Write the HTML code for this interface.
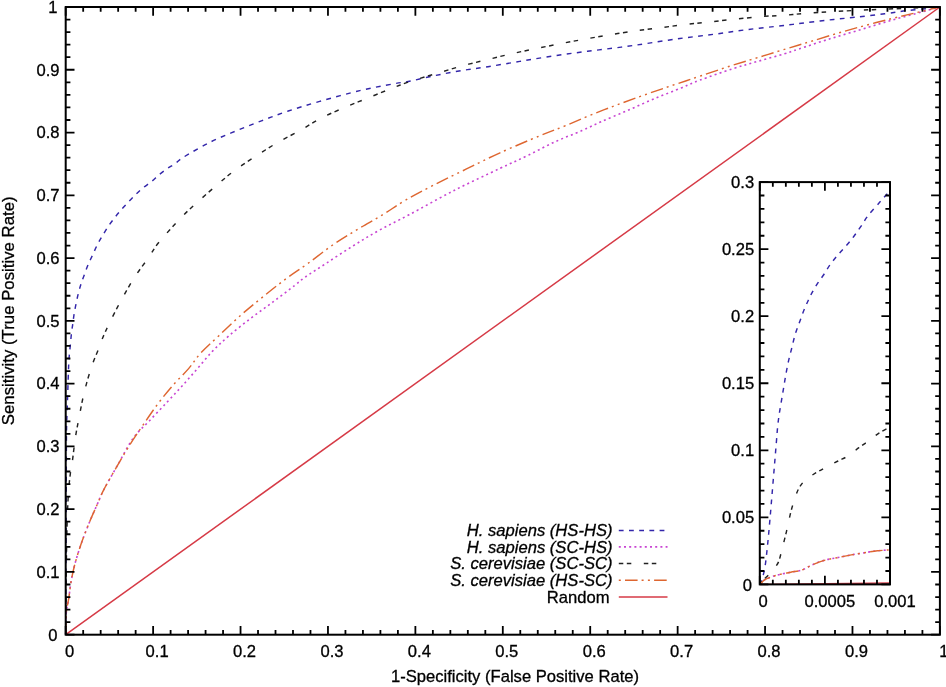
<!DOCTYPE html>
<html><head><meta charset="utf-8"><title>ROC curves</title>
<style>html,body{margin:0;padding:0;background:#fff;}svg{display:block;}text{font-family:"Liberation Sans", Arial, Helvetica, sans-serif;font-size:16.6px;fill:#000;stroke:#000;stroke-width:0.3px;}</style>
</head><body>
<svg width="946" height="687" viewBox="0 0 946 687">
<rect x="0" y="0" width="946" height="687" fill="#fff"/>
<g>
<path d="M65.7 634.7C65.75 622.25 65.9 587.45 66 560C66.1 532.55 66.22 491.33 66.3 470C66.38 448.67 66.37 441.73 66.5 432C66.63 422.27 66.88 418.43 67.1 411.6C67.32 404.77 67.55 398.48 67.8 391C68.05 383.52 68.37 372.45 68.6 366.7C68.83 360.95 68.93 359.9 69.2 356.5C69.47 353.1 69.83 350.07 70.2 346.3C70.57 342.53 70.97 337.67 71.4 333.9C71.83 330.13 72.35 326.98 72.8 323.7C73.25 320.42 73.57 317.48 74.1 314.2C74.63 310.92 75.32 307.38 76 304C76.68 300.62 77.35 297.28 78.2 293.9C79.05 290.52 80.05 286.98 81.1 283.7C82.15 280.42 83.28 277.48 84.5 274.2C85.72 270.92 87.02 267.27 88.4 264C89.78 260.73 91.28 257.87 92.8 254.6C94.32 251.33 95.9 247.53 97.5 244.4C99.1 241.27 100.62 238.8 102.4 235.8C104.18 232.8 106.15 229.42 108.2 226.4C110.25 223.38 112.52 220.48 114.7 217.7C116.88 214.92 118.98 212.37 121.3 209.7C123.62 207.03 126.18 204.25 128.6 201.7C131.02 199.15 133.38 196.72 135.8 194.4C138.22 192.08 140.43 189.98 143.1 187.8C145.77 185.62 149.13 183.48 151.8 181.3C154.47 179.12 156.48 176.85 159.1 174.7C161.72 172.55 164.83 170.22 167.5 168.4C170.17 166.58 172.43 165.67 175.1 163.8C177.77 161.93 177.73 160.77 183.5 157.2C189.27 153.63 200.97 146.77 209.7 142.4C218.43 138.03 227.17 134.63 235.9 131C244.63 127.37 253.37 123.93 262.1 120.6C270.83 117.27 278.7 114.2 288.3 111C297.9 107.8 307.78 104.8 319.7 101.4C331.62 98 347.47 93.53 359.8 90.6C372.13 87.67 385.23 85.4 393.7 83.8C402.17 82.2 403.57 82.4 410.6 81C417.63 79.6 427.45 77.13 435.9 75.4C444.35 73.67 452.62 72.05 461.3 70.6C469.98 69.15 478.25 68.23 488 66.7C497.75 65.17 508.85 63.2 519.8 61.4C530.75 59.6 542.42 57.58 553.7 55.9C564.98 54.22 576.23 52.77 587.5 51.3C598.77 49.83 611.55 48.38 621.3 47.1C631.05 45.82 636.25 45.03 646 43.6C655.75 42.17 668.52 40.05 679.8 38.5C691.08 36.95 702.42 35.78 713.7 34.3C724.98 32.82 736.23 31.02 747.5 29.6C758.77 28.18 772.3 26.85 781.3 25.8C790.3 24.75 793.77 24.25 801.5 23.3C809.23 22.35 818.83 21.1 827.7 20.1C836.57 19.1 845.18 18.35 854.7 17.3C864.22 16.25 876.08 14.92 884.8 13.8C893.52 12.68 899.87 11.48 907 10.6C914.13 9.72 922.12 9.1 927.6 8.5C933.08 7.9 937.85 7.25 939.9 7" fill="none" stroke="#3326aa" stroke-width="1.45" stroke-dasharray="4.8 5.4" stroke-linejoin="round"/>
<path d="M65.7 634.7C65.78 631.18 65.7 619.6 66.2 613.6C66.7 607.6 67.88 604.07 68.7 598.7C69.52 593.33 70.07 587.18 71.1 581.4C72.13 575.62 73.25 570.18 74.9 564C76.55 557.82 78.73 550.88 81 544.3C83.27 537.72 85.82 531.1 88.5 524.5C91.18 517.9 94.57 510.47 97.1 504.7C99.63 498.93 100.42 496.25 103.7 489.9C106.98 483.55 111.88 475.22 116.8 466.6C121.72 457.98 127.75 445.85 133.2 438.2C138.65 430.55 143.87 426.7 149.5 420.7C155.13 414.7 161.53 408.02 167 402.2C172.47 396.38 177.2 391.43 182.3 385.8C187.4 380.17 192.52 374.22 197.6 368.4C202.68 362.58 207.55 356.35 212.8 350.9C218.05 345.45 222.75 341.15 229.1 335.7C235.45 330.25 243.63 323.78 250.9 318.2C258.17 312.62 265.42 307.65 272.7 302.2C279.98 296.75 289.18 289.68 294.6 285.5C300.02 281.32 299.93 280.8 305.2 277.1C310.47 273.4 318.33 268.43 326.2 263.3C334.07 258.17 343.67 251.75 352.4 246.3C361.13 240.85 369.17 235.85 378.6 230.6C388.03 225.35 396.33 221.53 409 214.8C421.67 208.07 439.43 197.93 454.6 190.2C469.77 182.47 487.88 174.15 500 168.4C512.12 162.65 518.2 160.1 527.3 155.7C536.4 151.3 545.5 146.18 554.6 142C563.7 137.82 574.17 133.97 581.9 130.6C589.63 127.23 593.43 125.13 601 121.8C608.57 118.47 618.37 114.47 627.3 110.6C636.23 106.73 645.5 102.42 654.6 98.6C663.7 94.78 674.33 90.78 681.9 87.7C689.47 84.62 691.52 83.27 700 80.1C708.48 76.93 722.97 71.88 732.8 68.7C742.63 65.52 750.45 63.47 759 61C767.55 58.53 777.47 55.9 784.1 53.9C790.73 51.9 791.53 51.4 798.8 49C806.07 46.6 817.6 42.67 827.7 39.5C837.8 36.33 848.83 33.18 859.4 30C869.97 26.82 880.53 23.45 891.1 20.4C901.67 17.35 914.67 13.93 922.8 11.7C930.93 9.47 937.05 7.78 939.9 7" fill="none" stroke="#c844d2" stroke-width="1.6" stroke-dasharray="2 3.2" stroke-linejoin="round"/>
<path d="M65.7 634.7C65.75 628.92 65.88 612.62 66 600C66.12 587.38 66.2 572.33 66.4 559C66.6 545.67 66.85 531.17 67.2 520C67.55 508.83 67.98 499.67 68.5 492C69.02 484.33 69.68 478.88 70.3 474C70.92 469.12 71.37 468.67 72.2 462.7C73.03 456.73 74.1 446.03 75.3 438.2C76.5 430.37 77.87 423.53 79.4 415.7C80.93 407.87 82.47 399.37 84.5 391.2C86.53 383.03 89.22 373.83 91.6 366.7C93.98 359.57 97.03 353.02 98.8 348.4C100.57 343.78 100.42 343.23 102.2 339C103.98 334.77 106.35 329.43 109.5 323C112.65 316.57 116.98 307.93 121.1 300.4C125.22 292.87 129.7 284.83 134.2 277.8C138.7 270.77 143.97 264.13 148.1 258.2C152.23 252.27 153.55 248.9 159 242.2C164.45 235.5 174.97 224.15 180.8 218C186.63 211.85 188.02 210.77 194 205.3C199.98 199.83 209.72 191.17 216.7 185.2C223.68 179.23 229.22 174.45 235.9 169.5C242.58 164.55 249.82 160.02 256.8 155.5C263.78 150.98 270.52 146.62 277.8 142.4C285.08 138.18 293.22 134.28 300.5 130.2C307.78 126.12 314.15 121.68 321.5 117.9C328.85 114.12 336.95 110.78 344.6 107.5C352.25 104.22 359.78 101.3 367.4 98.2C375.02 95.1 383.1 91.72 390.3 88.9C397.5 86.08 403 83.83 410.6 81.3C418.2 78.77 427.45 76.23 435.9 73.7C444.35 71.17 452.78 68.43 461.3 66.1C469.82 63.77 478.65 61.75 487 59.7C495.35 57.65 503.4 55.62 511.4 53.8C519.4 51.98 526.83 50.48 535 48.8C543.17 47.12 552.08 45.32 560.4 43.7C568.72 42.08 576.72 40.57 584.9 39.1C593.08 37.63 601.32 36.25 609.5 34.9C617.68 33.55 626.78 32.03 634 31C641.22 29.97 644.32 29.77 652.8 28.7C661.28 27.63 675.32 25.73 684.9 24.6C694.48 23.47 701.85 22.82 710.3 21.9C718.75 20.98 726.87 20 735.6 19.1C744.33 18.2 754.52 17.15 762.7 16.5C770.88 15.85 777.65 15.72 784.7 15.2C791.75 14.68 797.3 13.98 805 13.4C812.7 12.82 821.3 12.25 830.9 11.7C840.5 11.15 854.15 10.5 862.6 10.1C871.05 9.7 873.7 9.62 881.6 9.3C889.5 8.98 900.28 8.58 910 8.2C919.72 7.82 934.92 7.2 939.9 7" fill="none" stroke="#222222" stroke-width="1.45" stroke-dasharray="4.5 3.5 4.5 12.5" stroke-linejoin="round"/>
<path d="M65.7 634.7C65.78 631.18 65.7 619.6 66.2 613.6C66.7 607.6 67.88 604.07 68.7 598.7C69.52 593.33 70.07 587.18 71.1 581.4C72.13 575.62 73.25 570.18 74.9 564C76.55 557.82 78.73 550.88 81 544.3C83.27 537.72 85.82 531.1 88.5 524.5C91.18 517.9 94.57 510.47 97.1 504.7C99.63 498.93 100.42 496.25 103.7 489.9C106.98 483.55 112.43 474.13 116.8 466.6C121.17 459.07 125.53 451.62 129.9 444.7C134.27 437.78 138.27 432 143 425.1C147.73 418.2 153.22 410.03 158.3 403.3C163.38 396.57 168.42 390.52 173.5 384.7C178.58 378.88 184.27 373.67 188.8 368.4C193.33 363.13 195.68 358.55 200.7 353.1C205.72 347.65 212.23 342 218.9 335.7C225.57 329.4 233.42 321.73 240.7 315.3C247.98 308.87 255.08 303.17 262.6 297.1C270.12 291.03 278.28 284.48 285.8 278.9C293.32 273.32 299.88 269.25 307.7 263.6C315.52 257.95 324.38 250.72 332.7 245C341.02 239.28 349.3 234.32 357.6 229.3C365.9 224.28 374.6 219.7 382.5 214.9C390.4 210.1 396.53 205.43 405 200.5C413.47 195.57 423.13 190.52 433.3 185.3C443.47 180.08 454.88 174.62 466 169.2C477.12 163.78 487.78 158.33 500 152.8C512.22 147.27 528.38 140.52 539.3 136C550.22 131.48 556.58 129.33 565.5 125.7C574.42 122.07 583.6 117.9 592.8 114.2C602 110.5 611.5 106.92 620.7 103.5C629.9 100.08 638.9 96.88 648 93.7C657.1 90.52 666.45 87.38 675.3 84.4C684.15 81.42 691.88 78.88 701.1 75.8C710.32 72.72 720.95 69 730.6 65.9C740.25 62.8 749.55 60.1 759 57.2C768.45 54.3 778.48 51.18 787.3 48.5C796.12 45.82 802.52 43.93 811.9 41.1C821.28 38.27 833.03 34.55 843.6 31.5C854.17 28.45 864.73 25.57 875.3 22.8C885.87 20.03 896.23 17.53 907 14.9C917.77 12.27 934.42 8.32 939.9 7" fill="none" stroke="#de6630" stroke-width="1.45" stroke-dasharray="12.6 4 2 4.3 2 4.2" stroke-linejoin="round"/>
<line x1="65.7" y1="634.7" x2="939.9" y2="7" stroke="#d63a46" stroke-width="1.5"/>
</g>
<path d="M65.7 634.7v-8.8M65.7 7v8.8M65.7 634.7h8.8M939.9 634.7h-8.8M83.18 634.7v-4.7M83.18 7v4.7M65.7 622.15h4.7M939.9 622.15h-4.7M100.67 634.7v-4.7M100.67 7v4.7M65.7 609.59h4.7M939.9 609.59h-4.7M118.15 634.7v-4.7M118.15 7v4.7M65.7 597.04h4.7M939.9 597.04h-4.7M135.64 634.7v-4.7M135.64 7v4.7M65.7 584.48h4.7M939.9 584.48h-4.7M153.12 634.7v-8.8M153.12 7v8.8M65.7 571.93h8.8M939.9 571.93h-8.8M170.6 634.7v-4.7M170.6 7v4.7M65.7 559.38h4.7M939.9 559.38h-4.7M188.09 634.7v-4.7M188.09 7v4.7M65.7 546.82h4.7M939.9 546.82h-4.7M205.57 634.7v-4.7M205.57 7v4.7M65.7 534.27h4.7M939.9 534.27h-4.7M223.06 634.7v-4.7M223.06 7v4.7M65.7 521.71h4.7M939.9 521.71h-4.7M240.54 634.7v-8.8M240.54 7v8.8M65.7 509.16h8.8M939.9 509.16h-8.8M258.02 634.7v-4.7M258.02 7v4.7M65.7 496.61h4.7M939.9 496.61h-4.7M275.51 634.7v-4.7M275.51 7v4.7M65.7 484.05h4.7M939.9 484.05h-4.7M292.99 634.7v-4.7M292.99 7v4.7M65.7 471.5h4.7M939.9 471.5h-4.7M310.48 634.7v-4.7M310.48 7v4.7M65.7 458.94h4.7M939.9 458.94h-4.7M327.96 634.7v-8.8M327.96 7v8.8M65.7 446.39h8.8M939.9 446.39h-8.8M345.44 634.7v-4.7M345.44 7v4.7M65.7 433.84h4.7M939.9 433.84h-4.7M362.93 634.7v-4.7M362.93 7v4.7M65.7 421.28h4.7M939.9 421.28h-4.7M380.41 634.7v-4.7M380.41 7v4.7M65.7 408.73h4.7M939.9 408.73h-4.7M397.9 634.7v-4.7M397.9 7v4.7M65.7 396.17h4.7M939.9 396.17h-4.7M415.38 634.7v-8.8M415.38 7v8.8M65.7 383.62h8.8M939.9 383.62h-8.8M432.86 634.7v-4.7M432.86 7v4.7M65.7 371.07h4.7M939.9 371.07h-4.7M450.35 634.7v-4.7M450.35 7v4.7M65.7 358.51h4.7M939.9 358.51h-4.7M467.83 634.7v-4.7M467.83 7v4.7M65.7 345.96h4.7M939.9 345.96h-4.7M485.32 634.7v-4.7M485.32 7v4.7M65.7 333.4h4.7M939.9 333.4h-4.7M502.8 634.7v-8.8M502.8 7v8.8M65.7 320.85h8.8M939.9 320.85h-8.8M520.28 634.7v-4.7M520.28 7v4.7M65.7 308.3h4.7M939.9 308.3h-4.7M537.77 634.7v-4.7M537.77 7v4.7M65.7 295.74h4.7M939.9 295.74h-4.7M555.25 634.7v-4.7M555.25 7v4.7M65.7 283.19h4.7M939.9 283.19h-4.7M572.74 634.7v-4.7M572.74 7v4.7M65.7 270.63h4.7M939.9 270.63h-4.7M590.22 634.7v-8.8M590.22 7v8.8M65.7 258.08h8.8M939.9 258.08h-8.8M607.7 634.7v-4.7M607.7 7v4.7M65.7 245.53h4.7M939.9 245.53h-4.7M625.19 634.7v-4.7M625.19 7v4.7M65.7 232.97h4.7M939.9 232.97h-4.7M642.67 634.7v-4.7M642.67 7v4.7M65.7 220.42h4.7M939.9 220.42h-4.7M660.16 634.7v-4.7M660.16 7v4.7M65.7 207.86h4.7M939.9 207.86h-4.7M677.64 634.7v-8.8M677.64 7v8.8M65.7 195.31h8.8M939.9 195.31h-8.8M695.12 634.7v-4.7M695.12 7v4.7M65.7 182.76h4.7M939.9 182.76h-4.7M712.61 634.7v-4.7M712.61 7v4.7M65.7 170.2h4.7M939.9 170.2h-4.7M730.09 634.7v-4.7M730.09 7v4.7M65.7 157.65h4.7M939.9 157.65h-4.7M747.58 634.7v-4.7M747.58 7v4.7M65.7 145.09h4.7M939.9 145.09h-4.7M765.06 634.7v-8.8M765.06 7v8.8M65.7 132.54h8.8M939.9 132.54h-8.8M782.54 634.7v-4.7M782.54 7v4.7M65.7 119.99h4.7M939.9 119.99h-4.7M800.03 634.7v-4.7M800.03 7v4.7M65.7 107.43h4.7M939.9 107.43h-4.7M817.51 634.7v-4.7M817.51 7v4.7M65.7 94.88h4.7M939.9 94.88h-4.7M835 634.7v-4.7M835 7v4.7M65.7 82.32h4.7M939.9 82.32h-4.7M852.48 634.7v-8.8M852.48 7v8.8M65.7 69.77h8.8M939.9 69.77h-8.8M869.96 634.7v-4.7M869.96 7v4.7M65.7 57.22h4.7M939.9 57.22h-4.7M887.45 634.7v-4.7M887.45 7v4.7M65.7 44.66h4.7M939.9 44.66h-4.7M904.93 634.7v-4.7M904.93 7v4.7M65.7 32.11h4.7M939.9 32.11h-4.7M922.42 634.7v-4.7M922.42 7v4.7M65.7 19.55h4.7M939.9 19.55h-4.7M939.9 634.7v-8.8M939.9 7v8.8M65.7 7h8.8M939.9 7h-8.8" stroke="#000" stroke-width="1.8" fill="none"/>
<rect x="65.7" y="7" width="874.2" height="627.7" fill="none" stroke="#000" stroke-width="2"/>
<text x="69.7" y="657.3" text-anchor="middle">0</text>
<text x="57.6" y="641.3" text-anchor="end">0</text>
<text x="157.12" y="657.3" text-anchor="middle">0.1</text>
<text x="59.6" y="577.73" text-anchor="end">0.1</text>
<text x="244.54" y="657.3" text-anchor="middle">0.2</text>
<text x="59.6" y="514.96" text-anchor="end">0.2</text>
<text x="331.96" y="657.3" text-anchor="middle">0.3</text>
<text x="59.6" y="452.19" text-anchor="end">0.3</text>
<text x="419.38" y="657.3" text-anchor="middle">0.4</text>
<text x="59.6" y="389.42" text-anchor="end">0.4</text>
<text x="506.8" y="657.3" text-anchor="middle">0.5</text>
<text x="59.6" y="326.65" text-anchor="end">0.5</text>
<text x="594.22" y="657.3" text-anchor="middle">0.6</text>
<text x="59.6" y="263.88" text-anchor="end">0.6</text>
<text x="681.64" y="657.3" text-anchor="middle">0.7</text>
<text x="59.6" y="201.11" text-anchor="end">0.7</text>
<text x="769.06" y="657.3" text-anchor="middle">0.8</text>
<text x="59.6" y="138.34" text-anchor="end">0.8</text>
<text x="856.48" y="657.3" text-anchor="middle">0.9</text>
<text x="59.6" y="75.57" text-anchor="end">0.9</text>
<text x="943.9" y="657.3" text-anchor="middle">1</text>
<text x="57.6" y="12.8" text-anchor="end">1</text>
<text x="515" y="681.8" text-anchor="middle">1-Specificity (False Positive Rate)</text>
<text transform="translate(13.7 310.8) rotate(-90)" text-anchor="middle" style="font-size:16.8px">Sensitivity (True Positive Rate)</text>
<text x="612.5" y="536" text-anchor="end" font-style="italic">H. sapiens (HS-HS)</text>
<line x1="618.8" y1="530.4" x2="667.5" y2="530.4" stroke="#3326aa" stroke-width="1.45" stroke-dasharray="4.8 5.4"/>
<text x="612.5" y="552.5" text-anchor="end" font-style="italic">H. sapiens (SC-HS)</text>
<line x1="618.8" y1="546.9" x2="667.5" y2="546.9" stroke="#c844d2" stroke-width="1.6" stroke-dasharray="2 3.2"/>
<text x="612.5" y="569.1" text-anchor="end" font-style="italic">S. cerevisiae (SC-SC)</text>
<line x1="618.8" y1="563.5" x2="667.5" y2="563.5" stroke="#222222" stroke-width="1.45" stroke-dasharray="4.5 3.5 4.5 12.5"/>
<text x="612.5" y="585.8" text-anchor="end" font-style="italic">S. cerevisiae (HS-SC)</text>
<line x1="618.8" y1="580.2" x2="667.5" y2="580.2" stroke="#de6630" stroke-width="1.45" stroke-dasharray="12.6 4 2 4.3 2 4.2" stroke-dashoffset="22.9"/>
<text x="609.5" y="602.6" text-anchor="end">Random</text>
<line x1="618.8" y1="597" x2="667.5" y2="597" stroke="#d63a46" stroke-width="1.5"/>
<rect x="759.8" y="182.1" width="130.2" height="402.3" fill="#fff"/>
<defs><clipPath id="ic"><rect x="759.8" y="182.1" width="130.2" height="402.3"/></clipPath></defs>
<g clip-path="url(#ic)">
<path d="M759.8 584.4C760.05 584.02 760.43 585.03 761.3 582.1C762.17 579.17 763.92 573.37 765 566.8C766.08 560.23 766.97 550.72 767.8 542.7C768.63 534.68 769.27 527.07 770 518.7C770.73 510.33 771.47 501.25 772.2 492.5C772.93 483.75 773.7 474.65 774.4 466.2C775.1 457.75 775.85 448.48 776.4 441.8C776.95 435.12 777.2 430.9 777.7 426.1C778.2 421.3 778.75 417.37 779.4 413C780.05 408.63 780.87 404.27 781.6 399.9C782.33 395.53 783.07 391.17 783.8 386.8C784.53 382.43 785.2 378.07 786 373.7C786.8 369.33 787.62 364.97 788.6 360.6C789.58 356.23 790.8 351.88 791.9 347.5C793 343.12 793.93 338.5 795.2 334.3C796.47 330.1 798.05 326.3 799.5 322.3C800.95 318.3 802.47 313.88 803.9 310.3C805.33 306.72 806.72 303.78 808.1 300.8C809.48 297.82 810.65 295.25 812.2 292.4C813.75 289.55 815.52 286.6 817.4 283.7C819.28 280.8 821.47 278.05 823.5 275C825.53 271.95 827.57 268.32 829.6 265.4C831.63 262.48 833.65 259.98 835.7 257.5C837.75 255.02 839.72 252.97 841.9 250.5C844.08 248.03 846.62 245.32 848.8 242.7C850.98 240.08 852.95 237.57 855 234.8C857.05 232.03 858.92 229.3 861.1 226.1C863.28 222.9 864.9 219.68 868.1 215.6C871.3 211.52 877.1 205.25 880.3 201.6C883.5 197.95 885.52 195.63 887.3 193.7C889.08 191.77 890.38 190.62 891 190" fill="none" stroke="#3326aa" stroke-width="1.45" stroke-dasharray="4.8 5.4" stroke-linejoin="round"/>
<path d="M759.8 584.4C760.6 583.65 762.53 581.2 764.6 579.9C766.67 578.6 769.65 577.52 772.2 576.6C774.75 575.68 776.8 575.13 779.9 574.4C783 573.67 787.17 572.92 790.8 572.2C794.43 571.48 798.12 571.33 801.7 570.1C805.28 568.87 808.4 566.47 812.3 564.8C816.2 563.13 820.78 561.32 825.1 560.1C829.42 558.88 833.83 558.37 838.2 557.5C842.57 556.63 846.93 555.7 851.3 554.9C855.67 554.1 860.03 553.38 864.4 552.7C868.77 552.02 873.07 551.28 877.5 550.8C881.93 550.32 888.75 549.97 891 549.8" fill="none" stroke="#c844d2" stroke-width="1.6" stroke-dasharray="2 3.2" stroke-linejoin="round"/>
<path d="M759.8 584.4C760.42 583.65 761.8 581.75 763.5 579.9C765.2 578.05 768.08 575.37 770 573.3C771.92 571.23 773.53 569.5 775 567.5C776.47 565.5 777.63 564.33 778.8 561.3C779.97 558.27 780.73 554.22 782 549.3C783.27 544.38 784.93 538 786.4 531.8C787.87 525.6 789.52 517.2 790.8 512.1C792.08 507 792.83 505.02 794.1 501.2C795.37 497.38 796.58 492.67 798.4 489.2C800.22 485.73 802.05 483.15 805 480.4C807.95 477.65 812.55 474.92 816.1 472.7C819.65 470.48 822.65 469.05 826.3 467.1C829.95 465.15 834.35 462.87 838 461C841.65 459.13 844.72 458.12 848.2 455.9C851.68 453.68 855.42 450.25 858.9 447.7C862.38 445.15 865.7 443.07 869.1 440.6C872.5 438.13 875.65 435.22 879.3 432.9C882.95 430.58 889.05 427.73 891 426.7" fill="none" stroke="#222222" stroke-width="1.45" stroke-dasharray="4.5 3.5 4.5 12.5" stroke-linejoin="round"/>
<path d="M759.8 584.4C760.6 583.65 762.53 581.2 764.6 579.9C766.67 578.6 769.65 577.52 772.2 576.6C774.75 575.68 776.8 575.13 779.9 574.4C783 573.67 787.17 572.92 790.8 572.2C794.43 571.48 798.12 571.33 801.7 570.1C805.28 568.87 808.4 566.47 812.3 564.8C816.2 563.13 820.78 561.32 825.1 560.1C829.42 558.88 833.83 558.37 838.2 557.5C842.57 556.63 846.93 555.7 851.3 554.9C855.67 554.1 860.03 553.38 864.4 552.7C868.77 552.02 873.07 551.28 877.5 550.8C881.93 550.32 888.75 549.97 891 549.8" fill="none" stroke="#de6630" stroke-width="1.45" stroke-dasharray="12.6 4 2 4.3 2 4.2" stroke-linejoin="round"/>
<line x1="759.8" y1="584.4" x2="890" y2="583.06" stroke="#d63a46" stroke-width="1.5"/>
</g>
<path d="M759.8 584.4v-8.6M759.8 182.1v8.6M772.82 584.4v-4.6M772.82 182.1v4.6M785.84 584.4v-4.6M785.84 182.1v4.6M798.86 584.4v-4.6M798.86 182.1v4.6M811.88 584.4v-4.6M811.88 182.1v4.6M824.9 584.4v-8.6M824.9 182.1v8.6M837.92 584.4v-4.6M837.92 182.1v4.6M850.94 584.4v-4.6M850.94 182.1v4.6M863.96 584.4v-4.6M863.96 182.1v4.6M876.98 584.4v-4.6M876.98 182.1v4.6M890 584.4v-8.6M890 182.1v8.6M759.8 584.4h8.6M890 584.4h-8.6M759.8 570.99h4.6M890 570.99h-4.6M759.8 557.58h4.6M890 557.58h-4.6M759.8 544.17h4.6M890 544.17h-4.6M759.8 530.76h4.6M890 530.76h-4.6M759.8 517.35h8.6M890 517.35h-8.6M759.8 503.94h4.6M890 503.94h-4.6M759.8 490.53h4.6M890 490.53h-4.6M759.8 477.12h4.6M890 477.12h-4.6M759.8 463.71h4.6M890 463.71h-4.6M759.8 450.3h8.6M890 450.3h-8.6M759.8 436.89h4.6M890 436.89h-4.6M759.8 423.48h4.6M890 423.48h-4.6M759.8 410.07h4.6M890 410.07h-4.6M759.8 396.66h4.6M890 396.66h-4.6M759.8 383.25h8.6M890 383.25h-8.6M759.8 369.84h4.6M890 369.84h-4.6M759.8 356.43h4.6M890 356.43h-4.6M759.8 343.02h4.6M890 343.02h-4.6M759.8 329.61h4.6M890 329.61h-4.6M759.8 316.2h8.6M890 316.2h-8.6M759.8 302.79h4.6M890 302.79h-4.6M759.8 289.38h4.6M890 289.38h-4.6M759.8 275.97h4.6M890 275.97h-4.6M759.8 262.56h4.6M890 262.56h-4.6M759.8 249.15h8.6M890 249.15h-8.6M759.8 235.74h4.6M890 235.74h-4.6M759.8 222.33h4.6M890 222.33h-4.6M759.8 208.92h4.6M890 208.92h-4.6M759.8 195.51h4.6M890 195.51h-4.6M759.8 182.1h8.6M890 182.1h-8.6" stroke="#000" stroke-width="1.8" fill="none"/>
<rect x="759.8" y="182.1" width="130.2" height="402.3" fill="none" stroke="#000" stroke-width="2"/>
<text x="752" y="591" text-anchor="end">0</text>
<text x="754.2" y="523.15" text-anchor="end">0.05</text>
<text x="754.2" y="456.1" text-anchor="end">0.1</text>
<text x="754.2" y="389.05" text-anchor="end">0.15</text>
<text x="754.2" y="322" text-anchor="end">0.2</text>
<text x="754.2" y="254.95" text-anchor="end">0.25</text>
<text x="754.2" y="187.9" text-anchor="end">0.3</text>
<text x="763" y="607" text-anchor="middle">0</text>
<text x="829.9" y="607" text-anchor="middle">0.0005</text>
<text x="895" y="607" text-anchor="middle">0.001</text>
</svg>
</body></html>
